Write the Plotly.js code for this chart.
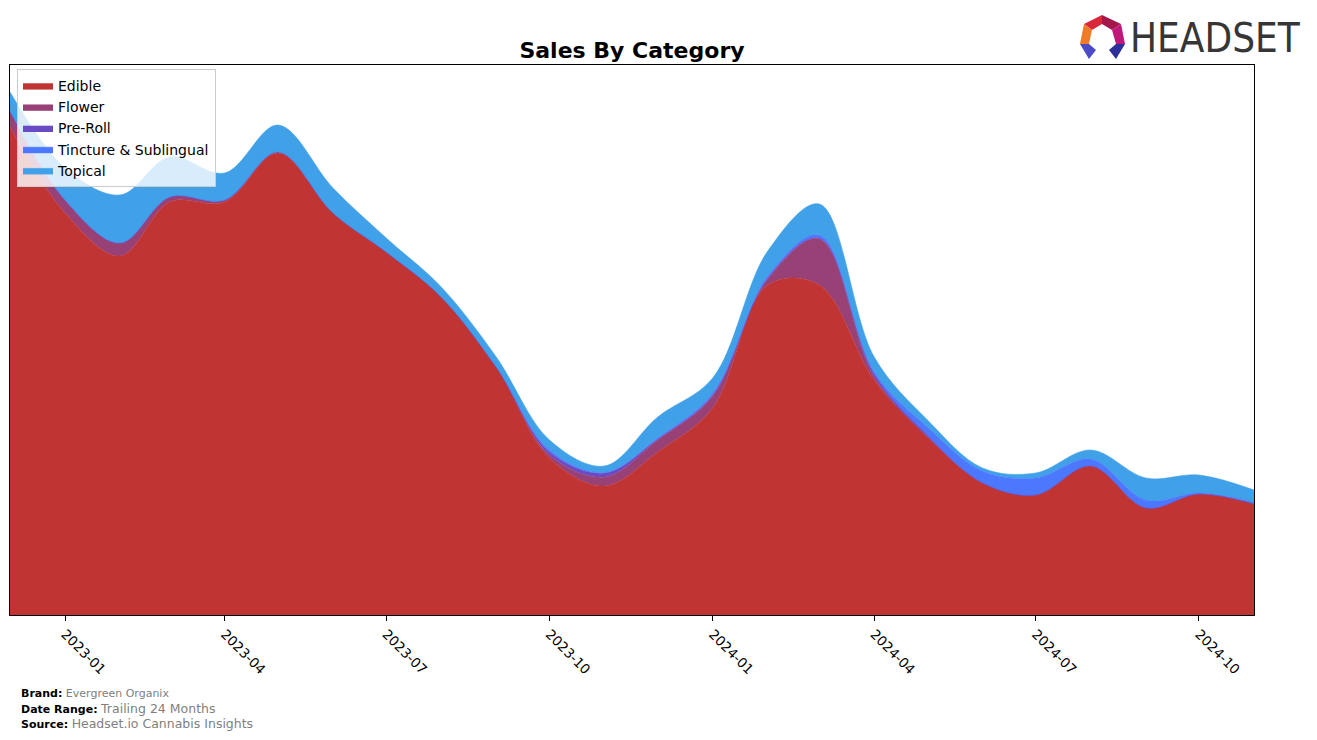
<!DOCTYPE html>
<html>
<head>
<meta charset="utf-8">
<script src="https://cdn.plot.ly/plotly-3.0.1.min.js"></script>
<style>
  html, body { margin: 0; padding: 0; background: #ffffff; }
  #chart { width: 1317px; height: 740px; }
</style>
</head>
<body>
<div id="chart"></div>
<script>
// ---- Data (monthly) ----
const months = ['2022-12-01','2023-01-01','2023-02-01','2023-03-01','2023-04-01','2023-05-01',
                '2023-06-01','2023-07-01','2023-08-01','2023-09-01','2023-10-01','2023-11-01',
                '2023-12-01','2024-01-01','2024-02-01','2024-03-01','2024-04-01','2024-05-01',
                '2024-06-01','2024-07-01','2024-08-01','2024-09-01','2024-10-01','2024-11-01'];
const edible   = [488,402,359,413,413,462,402,363,318,248,157,129,163,207,330,330,235,178,132,120,149,107,121,111];
const flower   = [16,13,13,5,2,1,0,0,0,0,3,9,12,12,6,46,3,0,0,0,0,0,0,0];
const preRoll  = [0,0,0,0,0,0,0,0,0,0,3,4,1,1,1,1,3,2,0,0,0,0,0,0];
const tincture = [0,0,0,0,0,0,0,0,0,0,2,0.5,1,2,2,3,2,8,12,17,7,8,1,2];
const topical  = [19,32,48,40,27,27,25,14,10,10,10,6.5,21,15,25,31,15,7,3,5,9,22,18,12];

const categories = ['Edible','Flower','Pre-Roll','Tincture & Sublingual','Topical'];
const seriesValues = [edible, flower, preRoll, tincture, topical];
const colors = ['#c13434','#984177','#6a4bc4','#4c78ff','#40a0e8'];
const tickLabelsFormat = '%Y-%m';

// ---- Layout helpers (pixel -> paper) ----
const PL = 10, PR = 1254, PT = 65, PB = 615;
const px2x = p => (p - PL) / (PR - PL);
const px2y = p => (PB - p) / (PB - PT);

const traces = categories.map((name, i) => ({
  type: 'scatter',
  mode: 'lines',
  name: name,
  x: months,
  y: seriesValues[i],
  stackgroup: 'one',
  legendgroup: 'g' + i,
  fillcolor: colors[i],
  line: { color: colors[i], width: 0.6, shape: 'spline', smoothing: 1 },
  hoverinfo: 'x+y+name'
}));

// Headset logo icon polygons (pixel coords)
const logoPolys = [
  { pts: [[1084,24],[1102,15],[1102,24],[1092,30]], c: '#d9283a' },
  { pts: [[1102,15],[1121,24],[1112,30],[1102,24]], c: '#a3174a' },
  { pts: [[1121,24],[1125,44],[1116,44],[1112,30]], c: '#c01878' },
  { pts: [[1084,24],[1092,30],[1089,44],[1080,44]], c: '#f27b28' },
  { pts: [[1080,44],[1089,44],[1096,50],[1089,59]], c: '#4b4bc8' },
  { pts: [[1116,44],[1125,44],[1116,59],[1109,50]], c: '#2f2f9a' }
];
const shapes = logoPolys.map(p => ({
  type: 'path', xref: 'paper', yref: 'paper',
  path: 'M ' + p.pts.map(q => px2x(q[0]).toFixed(5) + ' ' + px2y(q[1]).toFixed(5)).join(' L ') + ' Z',
  fillcolor: p.c, line: { width: 0 }
}));

const footFont = { family: 'DejaVu Sans', size: 11, color: '#000' };
const annotations = [
  { text: '<b>Brand:</b> <span style="color:#808080">Evergreen Organix</span>',
    x: px2x(19), y: px2y(693), font: footFont },
  { text: '<b>Date Range:</b> <span style="color:#808080;font-size:12.5px">Trailing 24 Months</span>',
    x: px2x(19), y: px2y(708), font: footFont },
  { text: '<b>Source:</b> <span style="color:#808080;font-size:12.5px">Headset.io Cannabis Insights</span>',
    x: px2x(19), y: px2y(723), font: footFont },
  { text: 'HEADSET', x: px2x(1303), y: px2y(38), xanchor: 'right',
    font: { family: 'DejaVu Sans Condensed, DejaVu Sans', size: 40, color: '#363636' } }
].map(a => Object.assign({ xref: 'paper', yref: 'paper', xanchor: 'left', yanchor: 'middle',
                           showarrow: false, align: 'left' }, a));

const layout = {
  width: 1317, height: 740,
  margin: { l: PL, r: 1317 - PR, t: PT, b: 740 - PB, pad: 0 },
  paper_bgcolor: '#ffffff', plot_bgcolor: '#ffffff',
  font: { family: 'DejaVu Sans', size: 14, color: '#000' },
  title: { text: '<b>Sales By Category</b>', font: { family: 'DejaVu Sans', size: 22, color: '#000' },
           x: 0.5, xref: 'paper', y: 1 - 50 / 740, yref: 'container', yanchor: 'middle' },
  showlegend: true,
  legend: {
    x: px2x(17), y: px2y(69), xanchor: 'left', yanchor: 'top',
    bgcolor: 'rgba(255,255,255,0.8)', bordercolor: '#cccccc', borderwidth: 1,
    font: { family: 'DejaVu Sans', size: 14, color: '#000' },
    traceorder: 'grouped', tracegroupgap: 0
  },
  xaxis: {
    type: 'date', range: ['2022-12-01', '2024-11-01'],
    tick0: '2023-01-01', dtick: 'M3', tickformat: tickLabelsFormat,
    tickangle: 45, ticks: 'outside', ticklen: 5, tickcolor: '#000',
    tickfont: { family: 'DejaVu Sans', size: 13.5, color: '#000' },
    showline: true, linecolor: '#000', linewidth: 1, mirror: true,
    showgrid: false, zeroline: false
  },
  yaxis: {
    range: [0, 550], showticklabels: false, ticks: '',
    showline: true, linecolor: '#000', linewidth: 1, mirror: true,
    showgrid: false, zeroline: false
  },
  shapes: shapes,
  annotations: annotations
};

Plotly.newPlot('chart', traces, layout, { displayModeBar: false, responsive: false });
</script>
</body>
</html>
